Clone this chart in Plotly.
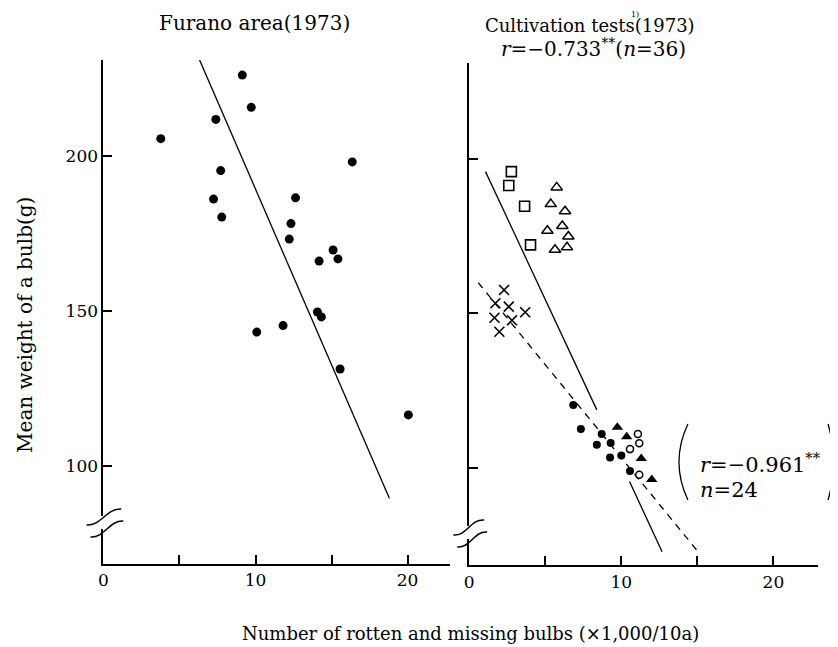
import plotly.graph_objects as go

# ---------------- data ----------------
# Left panel: Furano area (1973)
furano_x = [9.13, 9.72, 7.39, 3.77, 16.36, 7.71, 7.24, 12.63, 7.78, 12.33,
            12.22, 15.10, 14.18, 15.42, 14.07, 14.33, 10.08, 11.81, 15.56, 20.05]
furano_y = [226.1, 215.7, 211.8, 205.6, 198.1, 195.3, 186.1, 186.5, 180.3, 178.2,
            173.2, 169.7, 166.1, 166.8, 149.7, 148.1, 143.2, 145.3, 131.3, 116.5]
furano_line_x = [6.32, 18.80]
furano_line_y = [231.0, 89.6]

# Right panel: Cultivation tests (1973)
sq_x = [2.77, 2.60, 3.64, 4.03]
sq_y = [195.9, 191.4, 184.7, 172.2]
otri_x = [5.75, 5.36, 6.30, 5.14, 6.12, 6.52, 5.64, 6.43]
otri_y = [190.8, 185.4, 183.1, 176.8, 178.3, 174.9, 170.6, 171.4]
cross_x = [2.29, 1.72, 2.60, 3.68, 1.66, 2.81, 1.98]
cross_y = [157.6, 153.3, 152.2, 150.4, 148.6, 147.8, 144.1]
fcirc_x = [6.84, 7.34, 8.71, 8.39, 9.30, 9.26, 10.00, 10.57]
fcirc_y = [120.4, 112.6, 111.0, 107.5, 108.1, 103.4, 104.0, 99.0]
ftri_x = [9.74, 10.35, 11.31, 12.00]
ftri_y = [113.2, 110.1, 103.1, 96.3]
ocirc_x = [11.09, 11.18, 10.57, 11.18]
ocirc_y = [111.0, 108.0, 106.1, 97.8]
solid_x = [1.07, 8.39, None, 10.54, 12.68]
solid_y = [195.9, 118.8, None, 95.6, 72.9]
dash_x = [0.59, 15.16]
dash_y = [160.0, 72.2]

x_ticks = [0, 10, 20]
x_ticktext = ["0", "10", "20"]
x_minor = [5, 15]
y_ticks = [100, 150, 200]
y_ticktext = ["100", "150", "200"]

# ---------------- figure ----------------
# the page body has an 8px margin, so the figure starts at (8, 8)
OFF = 8
W, H = 838 - OFF, 647 - OFF
FONT = "DejaVu Serif"


def fx(p):
    return (p - OFF) / W


def fy(p):
    return 1 - (p - OFF) / H


fig = go.Figure()

fig.add_trace(go.Scatter(x=furano_x, y=furano_y, mode="markers",
                         marker=dict(symbol="circle", size=9, color="black"),
                         xaxis="x", yaxis="y", showlegend=False))
fig.add_trace(go.Scatter(x=furano_line_x, y=furano_line_y, mode="lines",
                         line=dict(color="black", width=1.3),
                         xaxis="x", yaxis="y", showlegend=False))

fig.add_trace(go.Scatter(x=solid_x, y=solid_y, mode="lines", connectgaps=False,
                         line=dict(color="black", width=1.3),
                         xaxis="x2", yaxis="y2", showlegend=False))
fig.add_trace(go.Scatter(x=dash_x, y=dash_y, mode="lines",
                         line=dict(color="black", width=1.3, dash="7px,6px"),
                         xaxis="x2", yaxis="y2", showlegend=False))

marker_sets = [
    (sq_x, sq_y, dict(symbol="square-open", size=10, color="black", line=dict(width=1.6, color="black"))),
    (otri_x, otri_y, dict(symbol="triangle-up-open", size=10, color="black", line=dict(width=1.5, color="black"))),
    (cross_x, cross_y, dict(symbol="x-thin-open", size=10, color="black", line=dict(width=1.6, color="black"))),
    (fcirc_x, fcirc_y, dict(symbol="circle", size=8, color="black")),
    (ftri_x, ftri_y, dict(symbol="triangle-up", size=10, color="black")),
    (ocirc_x, ocirc_y, dict(symbol="circle", size=7, color="white", line=dict(width=1.5, color="black"))),
]
for xs, ys, mk in marker_sets:
    fig.add_trace(go.Scatter(x=xs, y=ys, mode="markers", marker=mk,
                             xaxis="x2", yaxis="y2", showlegend=False))

axis_common = dict(showgrid=False, zeroline=False, showline=True, linecolor="black",
                   linewidth=2, ticks="inside", ticklen=9, tickwidth=1.5,
                   tickcolor="black", tickfont=dict(family=FONT, size=17, color="black"))
minor_x = dict(tickmode="array", tickvals=x_minor, ticks="inside", ticklen=9,
               tickwidth=1.5, tickcolor="black", showgrid=False)

fig.update_layout(
    width=W, height=H,
    margin=dict(l=0, r=0, t=0, b=0),
    paper_bgcolor="white", plot_bgcolor="white",
    xaxis=dict(domain=[fx(99), fx(448)], range=[0, 22.81], anchor="y",
               tickmode="array", tickvals=x_ticks, ticktext=x_ticktext,
               minor=minor_x, **axis_common),
    yaxis=dict(domain=[fy(563.7), fy(59.9)], range=[68.5, 231], anchor="x",
               tickmode="array", tickvals=y_ticks, ticktext=y_ticktext, **axis_common),
    xaxis2=dict(domain=[fx(467), fx(818)], range=[0, 22.94], anchor="y2",
                tickmode="array", tickvals=x_ticks, ticktext=x_ticktext,
                minor=minor_x, **axis_common),
    yaxis2=dict(domain=[fy(565.3), fy(63.2)], range=[68.5, 231], anchor="x2",
                tickmode="array", tickvals=y_ticks, showticklabels=False,
                **{k: v for k, v in axis_common.items() if k != "tickfont"}),
)


def ann(text, x, y, size, xanchor="center", yanchor="middle", textangle=0):
    fig.add_annotation(text=text, x=fx(x), y=fy(y), xref="paper", yref="paper",
                       showarrow=False, xanchor=xanchor, yanchor=yanchor,
                       textangle=textangle,
                       font=dict(family=FONT, size=size, color="black"))


ann("Furano area(1973)", 251, 23, 20)
ann("Cultivation tests(1973)", 588, 25, 18)
ann("1)", 634, 8, 8, yanchor="top")
ann("<i>r</i>=−0.733<sup>**</sup>(<i>n</i>=36)", 497, 48, 20, xanchor="left")
ann("<i>r</i>=−0.961<sup>**</sup>", 697, 463, 21, xanchor="left")
ann("<i>n</i>=24", 697, 490, 21, xanchor="left")
ann("Mean weight of a bulb(g)", 20, 325, 20, textangle=-90)
ann("Number of rotten and missing bulbs (×1,000/10a)", 468, 633, 18)


def pt(p):
    return f"{fx(p[0]):.5f},{fy(p[1]):.5f}"


def s_curve(a, b, amp):
    dx, dy = b[0] - a[0], b[1] - a[1]
    ln = (dx * dx + dy * dy) ** 0.5
    nx, ny = -dy / ln, dx / ln
    p1 = (a[0] + dx / 3 + amp * nx, a[1] + dy / 3 + amp * ny)
    p2 = (a[0] + 2 * dx / 3 - amp * nx, a[1] + 2 * dy / 3 - amp * ny)
    return f"M {pt(a)} C {pt(p1)} {pt(p2)} {pt(b)}"


# axis breaks: white gap + two wavy strokes
for gx, gy0, gy1, marks in [
    (99, 516, 529, [((82, 525), (117, 509)), ((86, 537), (119, 521))]),
    (467, 526, 539, [((451, 535), (482, 520)), ((455, 547), (485, 532))]),
]:
    fig.add_shape(type="rect", xref="paper", yref="paper",
                  x0=fx(gx - 3), x1=fx(gx + 3), y0=fy(gy1), y1=fy(gy0),
                  fillcolor="white", line=dict(width=0), layer="above")
    for a, b in marks:
        fig.add_shape(type="path", xref="paper", yref="paper", path=s_curve(a, b, 7),
                      line=dict(color="black", width=1.5), layer="above")

# big parentheses around the second statistic
fig.add_shape(type="path", xref="paper", yref="paper",
              path=f"M {pt((687, 424))} Q {pt((669, 462))} {pt((687, 500))}",
              line=dict(color="black", width=1.3))
fig.add_shape(type="path", xref="paper", yref="paper",
              path=f"M {pt((828, 424))} Q {pt((839, 462))} {pt((828, 500))}",
              line=dict(color="black", width=1.3))

fig.write_html("out.html")
